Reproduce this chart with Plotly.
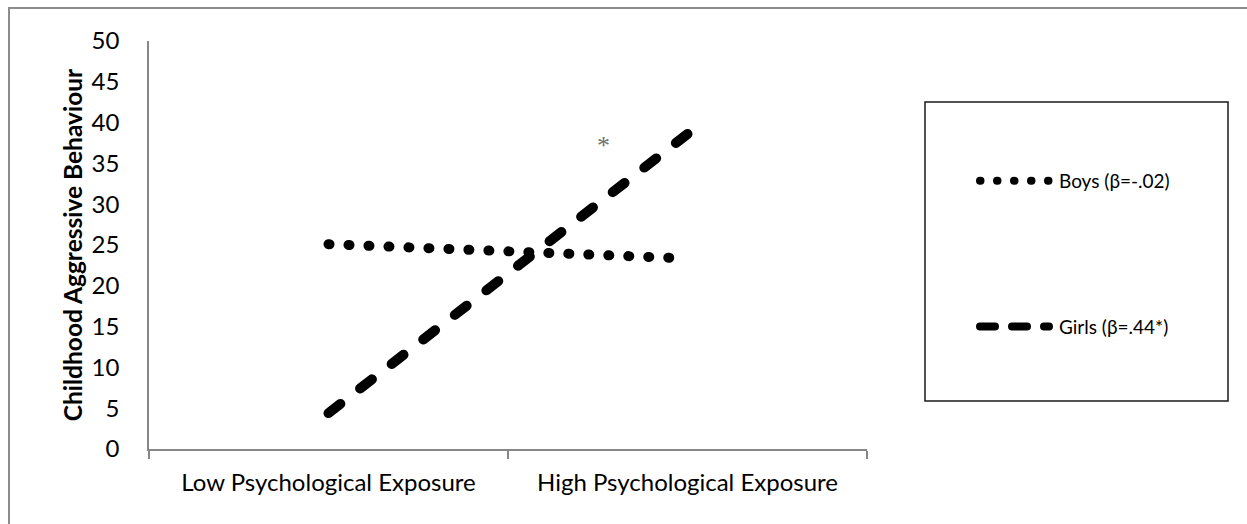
import plotly.graph_objects as go

# ---- data ----
categories = ["Low Psychological Exposure", "High Psychological Exposure"]
boys_values = [25.1, 23.35]
girls_values = [4.4, 38.6]
series_names = ["Boys (β=-.02)", "Girls (β=.44*)"]
y_tick_values = [0, 5, 10, 15, 20, 25, 30, 35, 40, 45, 50]
y_title = "Childhood Aggressive Behaviour"
star_label = "*"
star_x = 0.765   # position between categories (category index units)
star_y = 37.2

# ---- layout geometry ----
W, H = 1247, 524
L, R, T, B = 149, 380, 41, 75
PW, PH = W - L - R, H - T - B


def px(x):
    return (x - L) / PW


def py(y):
    return (H - B - y) / PH


AXIS_GREY = "#868686"
FONT = "Lato"

fig = go.Figure()
fig.add_trace(go.Scatter(
    x=categories, y=boys_values, name=series_names[0], mode="lines",
    legendgroup="boys",
    line=dict(color="black", width=10, dash="1px,19px"),
))
fig.add_trace(go.Scatter(
    x=categories, y=girls_values, name=series_names[1], mode="lines",
    legendgroup="girls",
    line=dict(color="black", width=10, dash="15px,25px"),
))

fig.add_annotation(
    x=star_x, y=star_y, xref="x", yref="y", text=star_label, showarrow=False,
    font=dict(family="Liberation Serif", size=26, color="#707070"),
)

# outer frame (extends beyond the right / bottom of the picture)
fig.add_shape(type="rect", xref="paper", yref="paper",
              x0=px(9), x1=px(1400), y0=py(700), y1=py(8),
              line=dict(color="#8c8c8c", width=2), layer="below")
# legend frame
fig.add_shape(type="rect", xref="paper", yref="paper",
              x0=px(925), x1=px(1228), y0=py(401), y1=py(102),
              line=dict(color="#1a1a1a", width=1.5))

fig.update_layout(
    width=W, height=H,
    margin=dict(l=L, r=R, t=T, b=B, pad=0),
    paper_bgcolor="white", plot_bgcolor="white",
    font=dict(family=FONT, color="black"),
    showlegend=True,
    legend=dict(
        x=px(975), y=py(162), xanchor="left", yanchor="top",
        bgcolor="rgba(0,0,0,0)", borderwidth=0,
        font=dict(family=FONT, size=19, color="black"),
        itemwidth=74, tracegroupgap=118, traceorder="grouped",
    ),
    xaxis=dict(
        type="category", range=[-0.5, 1.5],
        showline=True, linecolor=AXIS_GREY, linewidth=1.5,
        ticks="outside", tickson="boundaries", ticklen=8,
        tickcolor=AXIS_GREY, tickwidth=1.5,
        showgrid=False, zeroline=False,
        tickfont=dict(family=FONT, size=24, color="black"),
        ticklabelstandoff=11,
    ),
    yaxis=dict(
        range=[0, 50], tickvals=y_tick_values,
        showline=True, linecolor=AXIS_GREY, linewidth=1.5,
        ticks="", showgrid=False, zeroline=False,
        tickfont=dict(family=FONT, size=24, color="black"),
        ticklabelstandoff=23,
        title=dict(text="<b>" + y_title + "</b>",
                   font=dict(family=FONT, size=24.5, color="black"),
                   standoff=2),
    ),
)

post = """
document.body.style.margin = '0';
document.body.style.padding = '0';
var gd = document.getElementById('{plot_id}');
function fixLines(){
  gd.querySelectorAll('.scatterlayer .js-line').forEach(function(p){
    p.style.strokeLinecap = 'round';
  });
  var items = gd.querySelectorAll('.legend .traces');
  items.forEach(function(t, i){
    var p = t.querySelector('.legendlines path');
    if(!p) return;
    p.setAttribute('d', 'M5,0h69');
    p.style.strokeLinecap = 'round';
    p.style.strokeWidth = '8px';
    p.style.strokeDasharray = (i === 0) ? '0.5px,16.5px' : '15px,17px';
  });
}
fixLines();
gd.on('plotly_afterplot', fixLines);
"""

fig.write_html("out.html", post_script=post, config={"displayModeBar": False})
